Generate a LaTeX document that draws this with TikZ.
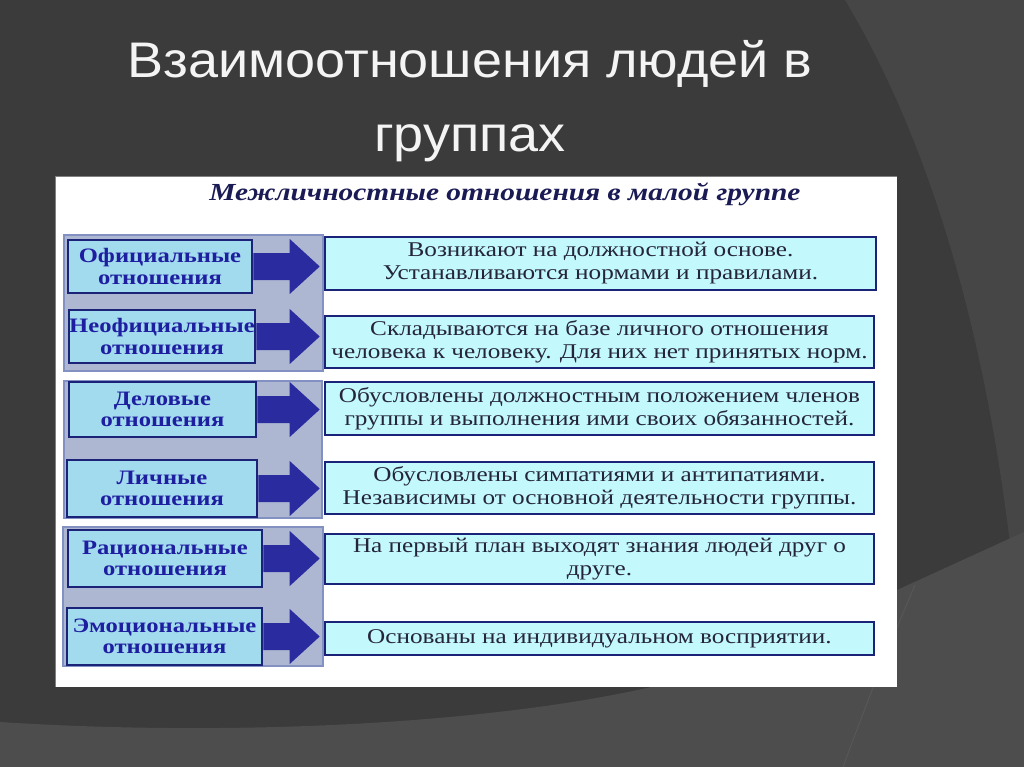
\documentclass[tikz,border=0pt]{standalone}
\usepackage{fontspec}
\setmainfont{Liberation Serif}
\newfontfamily\wserif[FakeStretch=1.2]{Liberation Serif}
\newfontfamily\titlefont[FakeStretch=1.08]{Liberation Sans}
\usetikzlibrary{calc}
\definecolor{bgdark}{HTML}{3B3B3B}
\definecolor{bgright}{HTML}{464646}
\definecolor{bglight}{HTML}{4D4D4D}
\definecolor{arcline}{HTML}{575757}
\definecolor{grpfill}{HTML}{ADB7D1}
\definecolor{grpdraw}{HTML}{8390C2}
\definecolor{lfill}{HTML}{A2DAEE}
\definecolor{rfill}{HTML}{C3F8FC}
\definecolor{boxdraw}{HTML}{1A2378}
\definecolor{arrowc}{HTML}{2B2BA0}
\definecolor{ltext}{HTML}{1E1EA0}
\definecolor{rtext}{HTML}{25253A}
\definecolor{headc}{HTML}{1A1A55}
\definecolor{titlec}{HTML}{F4F4F4}
\newcommand\fatarrow[2]{%
  \fill[arrowc] let \p1=(#1.east), \p2=(#2.west) in
    (\x1,\y1+13.5pt) -- (\x2-34pt,\y1+13.5pt) -- (\x2-34pt,\y1+27.5pt) --
    (\x2-4pt,\y1) -- (\x2-34pt,\y1-27.5pt) -- (\x2-34pt,\y1-13.5pt) --
    (\x1,\y1-13.5pt) -- cycle;}
\begin{document}
\begin{tikzpicture}[x=1pt,y=-1pt,
  grp/.style={fill=grpfill, draw=grpdraw, line width=1.5pt},
  lbox/.style={rectangle, fill=lfill, draw=boxdraw, line width=2.6pt, inner sep=0pt,
    align=center, text=ltext, font=\wserif\bfseries\fontsize{20.5}{21.5}\selectfont},
  rbox/.style={rectangle, fill=rfill, draw=boxdraw, line width=2.6pt, inner sep=0pt,
    align=center, text=rtext, font=\wserif\fontsize{21}{23}\selectfont},
  heading/.style={anchor=base, text=headc, font=\wserif\bfseries\itshape\fontsize{24.5}{27}\selectfont},
  titletext/.style={anchor=base, text=titlec, font=\titlefont\fontsize{50}{56}\selectfont}]
\useasboundingbox (0,0) rectangle (1024,767);
% background
\fill[bgdark] (0,0) rectangle (1024,767);
\fill[bgright] (845,0) .. controls (935,150) and (995,360) .. (1018,620) -- (1024,620) -- (1024,0) -- cycle;
\fill[bglight] (0,722) .. controls (250,738) and (520,722) .. (680,680) -- (897,590) -- (1024,532) -- (1024,767) -- (0,767) -- cycle;
\draw[arcline, line width=1pt] (843,767) .. controls (875,680) and (900,620) .. (915,585);
% title
\node[titletext] (t1) at (470,78) {Взаимоотношения людей в};
\node[titletext] (t2) at (470,152) {группах};
% panel
\fill[white] (55,177) rectangle (897,687);
\draw[gray, line width=1pt] (55,687) -- (55,177) -- (897,177);
\node[heading] (hd) at (505,201) {Межличностные отношения в малой группе};
% group backgrounds
\draw[grp] (64,235) rectangle (323,371);
\draw[grp] (64,381) rectangle (322,518);
\draw[grp] (63,527) rectangle (323,666);
% left boxes
\node[lbox, minimum width=184pt, minimum height=53pt] (l1) at (160,266.5) {Официальные\\отношения};
\node[lbox, minimum width=186pt, minimum height=53pt] (l2) at (162,336.5) {Неофициальные\\отношения};
\node[lbox, minimum width=187pt, minimum height=55pt] (l3) at (162.5,409.5) {Деловые\\отношения};
\node[lbox, minimum width=190pt, minimum height=57pt] (l4) at (162,488.5) {Личные\\отношения};
\node[lbox, minimum width=194pt, minimum height=57pt] (l5) at (165,558.5) {Рациональные\\отношения};
\node[lbox, minimum width=195pt, minimum height=57pt] (l6) at (164.5,636.5) {Эмоциональные\\отношения};
% right boxes
\node[rbox, minimum width=551pt, minimum height=53pt] (r1) at (600.5,263.5) {Возникают на должностной основе.\\Устанавливаются нормами и правилами.};
\node[rbox, minimum width=549pt, minimum height=52pt] (r2) at (599.5,342) {Складываются на базе личного отношения\\человека к человеку. Для них нет принятых норм.};
\node[rbox, minimum width=549pt, minimum height=53pt] (r3) at (599.5,408.5) {Обусловлены должностным положением членов\\группы и выполнения ими своих обязанностей.};
\node[rbox, minimum width=549pt, minimum height=52pt] (r4) at (599.5,488) {Обусловлены симпатиями и антипатиями.\\Независимы от основной деятельности группы.};
\node[rbox, minimum width=549pt, minimum height=50pt] (r5) at (599.5,559) {На первый план выходят знания людей друг о\\друге.};
\node[rbox, minimum width=549pt, minimum height=33pt] (r6) at (599.5,638.5) {Основаны на индивидуальном восприятии.};
% arrows
\fatarrow{l1}{r1}
\fatarrow{l2}{r2}
\fatarrow{l3}{r3}
\fatarrow{l4}{r4}
\fatarrow{l5}{r5}
\fatarrow{l6}{r6}
\end{tikzpicture}
\end{document}
